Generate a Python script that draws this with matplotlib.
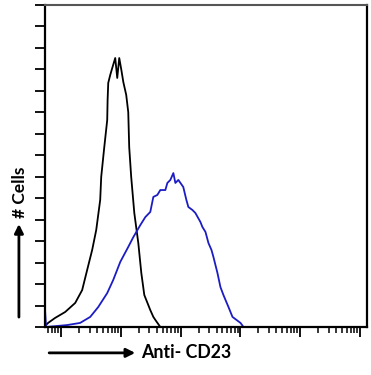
import numpy as np
import matplotlib.pyplot as plt
from matplotlib.ticker import LogLocator, MultipleLocator, NullFormatter

# isotype control (black) - fluorescence intensity vs cell count
ctrl_x = [0.54, 0.605, 0.79, 1.17, 1.72, 2.25, 2.73, 3.31, 3.87, 4.51, 4.69, 5.26,
          5.91, 6.0, 6.15, 6.64, 7.17, 8.05, 8.70, 9.40, 10.2, 11.0, 12.3, 13.3,
          13.8, 14.9, 16.8, 19.6, 22.0, 24.7, 31.1, 35.0, 37.8, 45.8]
ctrl_y = [0.5, 1.9, 4.2, 7.0, 11.2, 17.2, 26.6, 35.9, 45.2, 59.2, 69.9, 83.4,
          96.4, 105.7, 113.7, 117.4, 120.6, 125.3, 116.0, 125.3, 119.7, 114.1, 108.1, 100.1,
          83.8, 69.9, 53.1, 39.1, 25.2, 14.9, 7.9, 4.7, 3.3, 0.0]

# anti-CD23 stained (blue)
cd23_x = [0.54, 0.56, 1.26, 2.08, 3.07, 4.18, 5.91, 7.45, 9.77, 13.3, 16.2, 21.2,
          25.7, 31.1, 35.0, 40.8, 45.8, 55.6, 60.1, 67.4, 75.7, 81.8, 91.8, 111,
          125, 135, 158, 177, 215, 232, 261, 293, 329, 355, 414, 465, 522, 565,
          634, 740, 863, 1007, 1132]
cd23_y = [7.0, 0.0, 0.9, 1.9, 4.7, 9.3, 15.8, 21.9, 30.3, 37.3, 41.9, 47.5,
          51.2, 53.6, 60.6, 61.5, 63.8, 63.8, 67.1, 68.5, 71.7, 67.1, 68.5, 65.2,
          59.2, 55.9, 54.5, 53.1, 48.9, 46.6, 44.3, 39.1, 35.9, 32.6, 25.2, 18.6,
          14.9, 12.6, 9.3, 4.7, 3.3, 1.9, 0.0]

x_lim = (10**-0.27, 10**5.12)
y_lim = (0, 150)

plt.rcParams['font.family'] = ['Lato', 'DejaVu Sans']

fig = plt.figure(figsize=(3.71, 3.75), dpi=100)
ax = fig.add_axes([0.1213, 0.128, 0.8677, 0.8587])

ax.plot(ctrl_x, ctrl_y, color='black', lw=1.3)
ax.plot(cd23_x, cd23_y, color='#1c1cc4', lw=1.3)

ax.set_xscale('log')
ax.set_xlim(*x_lim)
ax.set_ylim(*y_lim)

ax.xaxis.set_major_locator(LogLocator(base=10, numticks=10))
ax.xaxis.set_minor_locator(LogLocator(base=10, subs=np.arange(2, 10), numticks=20))
ax.xaxis.set_major_formatter(NullFormatter())
ax.xaxis.set_minor_formatter(NullFormatter())
ax.yaxis.set_major_locator(MultipleLocator(10))
ax.yaxis.set_major_formatter(NullFormatter())

ax.tick_params(axis='x', which='major', direction='out', length=7.5, width=1.3)
ax.tick_params(axis='x', which='minor', direction='out', length=4.5, width=1.1)
ax.tick_params(axis='y', which='major', direction='out', length=7.5, width=1.3)
for s in ['left', 'bottom', 'right']:
    ax.spines[s].set_linewidth(1.6)
ax.spines['top'].set_linewidth(1.5)
ax.spines['top'].set_color('#555555')

# axis labels with arrows
ax.annotate('', xy=(0.372, 0.059), xytext=(0.125, 0.059), xycoords='figure fraction',
            arrowprops=dict(arrowstyle='-|>', lw=2, color='black', mutation_scale=13))
fig.text(0.381, 0.061, 'Anti- CD23', fontsize=12.8, fontweight='bold', ha='left', va='center')

ax.annotate('', xy=(0.051, 0.41), xytext=(0.051, 0.147), xycoords='figure fraction',
            arrowprops=dict(arrowstyle='-|>', lw=2, color='black', mutation_scale=13))
fig.text(0.054, 0.488, '# Cells', fontsize=12.5, fontweight='bold', rotation=90,
         ha='center', va='center')

plt.savefig('out.png', dpi=100)
